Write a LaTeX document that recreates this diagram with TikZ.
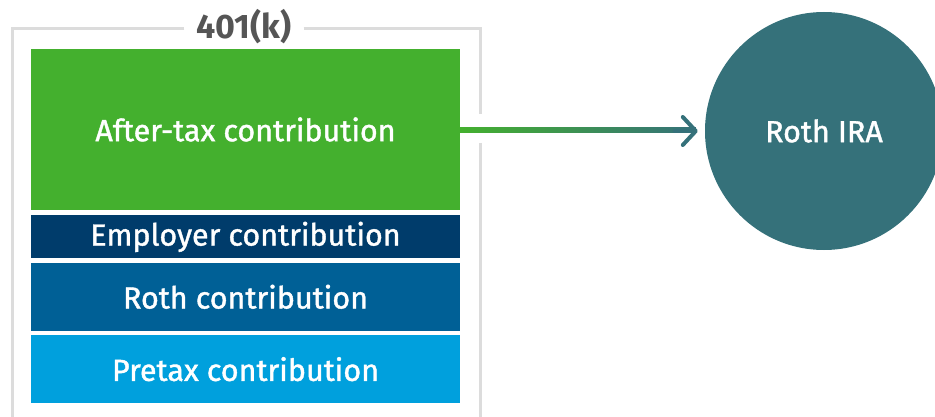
\documentclass[tikz,border=0pt]{standalone}
\usepackage{fontspec}
\setmainfont{Fira Sans}
\newfontfamily\boxfont{Fira Sans}[FakeBold=1.3]
\usepackage{tikz}
\usetikzlibrary{arrows.meta, positioning, calc}
\definecolor{framegray}{HTML}{DCDCDC}
\definecolor{titlegray}{HTML}{555555}
\definecolor{aftergreen}{HTML}{44B02E}
\definecolor{emplnavy}{HTML}{003C6B}
\definecolor{rothblue}{HTML}{006096}
\definecolor{pretaxblue}{HTML}{00A0DD}
\definecolor{irateal}{HTML}{35717A}
\tikzstyle{bucket} = [rectangle, minimum width=429pt, inner sep=0pt, align=center, text=white, font=\boxfont\fontsize{30.5}{33}\selectfont]
\tikzstyle{frame} = [draw=framegray, line width=3pt]

\begin{document}
\begin{tikzpicture}[x=1pt, y=-1pt]
  \useasboundingbox (0,0) rectangle (935,417);
  % stacked contribution buckets
  \node[bucket, fill=aftergreen, minimum height=161pt] (after) at (245.5,129.5) {After-tax contribution};
  \node[bucket, fill=emplnavy, minimum height=43pt, below=5pt of after] (empl) {Employer contribution};
  \node[bucket, fill=rothblue, minimum height=68pt, below=4pt of empl] (roth) {Roth contribution};
  \node[bucket, fill=pretaxblue, minimum height=68pt, below=4pt of roth] (pretax) {Pretax contribution};
  \node[font=\bfseries\fontsize{34}{36}\selectfont, text=titlegray, inner sep=0pt] (title) at (244,27) {401(k)};
  \node[circle, fill=irateal, minimum size=238pt, text=white, font=\boxfont\fontsize{30.5}{33}\selectfont] (ira) at (824,131) {Roth IRA};

  % open frame round the buckets
  \draw[frame] ($(title.west)+(-12,2)$) -| (12,425);
  \draw[frame] ($(title.east)+(12,2)$) -| (480,114);
  \draw[frame] (480,143) -- (480,425);

  % rollover arrow, green fading into teal
  \shade[left color=aftergreen, right color=irateal] ($(after.east)+(0,-2)$) rectangle ($(ira.west)+(-9,2)$);
  \draw[irateal, line width=4pt, line cap=round, -{Straight Barb[length=13pt, width=28pt, line cap=round, line join=round]}] ($(ira.west)+(-30,0)$) -- ($(ira.west)+(-7,0)$);
\end{tikzpicture}
\end{document}
